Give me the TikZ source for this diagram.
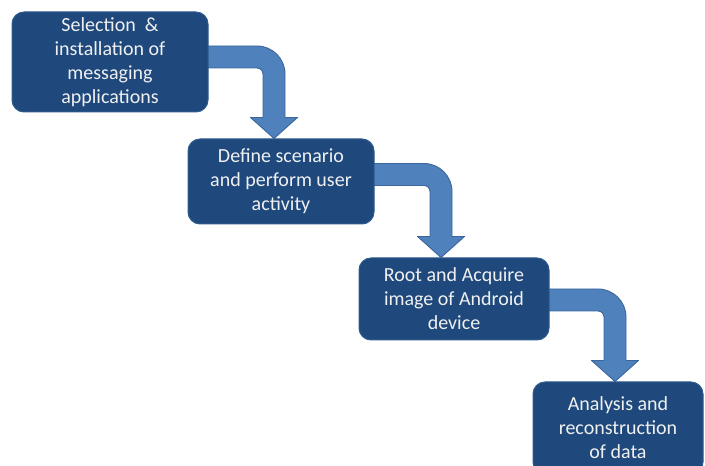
\documentclass[tikz,border=0pt]{standalone}
\usepackage{fontspec}
\setmainfont{Carlito}
\usetikzlibrary{calc,backgrounds}
\definecolor{stepNavy}{HTML}{1F497D}
\definecolor{stepEdge}{HTML}{2E5C8F}
\definecolor{flowBlue}{HTML}{4F81BD}
\definecolor{flowEdge}{HTML}{3B669B}

\tikzset{
  stage/.style={draw=stepEdge,line width=1pt,fill=stepNavy,rounded corners=12pt,
    text=white!94!black,align=center,inner sep=0pt,font=\fontsize{20}{24}\selectfont},
  flow/.style={draw=flowEdge,line width=0.9pt,fill=flowBlue,line join=round}
}

\begin{document}
\begin{tikzpicture}[x=1pt,y=1pt]
\useasboundingbox (0,0) rectangle (705,466);
% the four stages, top left to bottom right
\node[stage,minimum width=196pt,minimum height=100pt] (b1) at (110,404) {Selection~~\&\\installation of\\messaging\\applications};
\node[stage,minimum width=186pt,minimum height=85pt] (b2) at (281,284.5) {Define scenario\\and perform user\\activity};
\node[stage,minimum width=190pt,minimum height=82pt] (b3) at (454,167) {Root and Acquire\\image of Android\\device};
\node[stage,minimum width=170pt,minimum height=92pt] (b4) at (618,38) {Analysis and\\reconstruction\\of data};

% bent arrows: shaft half width 11, outer radius 28, head 47 x 21
\begin{scope}[on background layer]
\foreach \a/\b/\dy/\dx in {b1/b2/5/-7,b2/b3/7/-13,b3/b4/-1/-3}
  \draw[flow] let \p1=(\a.east), \p2=(\b.north), \n1={\y1+\dy}, \n2={\x2+\dx} in
    ({\x1-8},{\n1+11}) -- ({\n2+11-28},{\n1+11}) arc[start angle=90,end angle=0,radius=28]
    -- ({\n2+11},{\y2+21}) -- ({\n2+23.5},{\y2+21}) -- (\n2,\y2)
    -- ({\n2-23.5},{\y2+21}) -- ({\n2-11},{\y2+21})
    -- ({\n2-11},{\n1-11-6}) arc[start angle=0,end angle=90,radius=6]
    -- ({\x1-8},{\n1-11}) -- cycle;
\end{scope}
\end{tikzpicture}
\end{document}
